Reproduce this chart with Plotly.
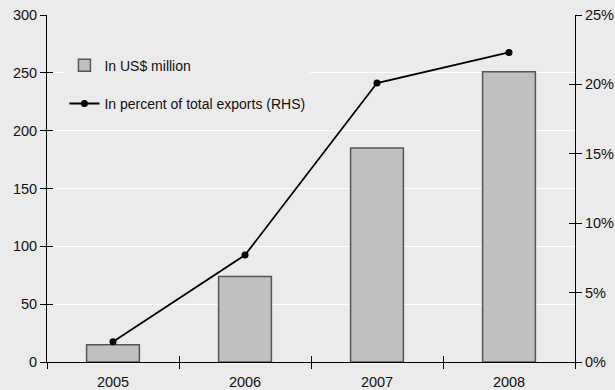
import plotly.graph_objects as go

years = ["2005", "2006", "2007", "2008"]
usd_million = [15, 74, 185, 251]
pct_exports = [1.45, 7.7, 20.1, 22.3]

y_ticks = [0, 50, 100, 150, 200, 250, 300]
y2_ticks = [0, 5, 10, 15, 20, 25]
y2_labels = ["0%", "5%", "10%", "15%", "20%", "25%"]
x_boundaries = [-0.5, 0.5, 1.5, 2.5, 3.5]

bg = "#ebebeb"
family = "Liberation Sans, Arial, sans-serif"
font = dict(family=family, size=14.5, color="#111111")

fig = go.Figure()
fig.add_trace(go.Bar(
    x=years, y=usd_million, name="In US$ million", legendgroup="a",
    marker=dict(color="#c0c0c0", line=dict(color="#555555", width=1.5)),
    width=0.4,
))
fig.add_trace(go.Scatter(
    x=years, y=pct_exports, name="In percent of total exports (RHS)",
    legendgroup="b",
    yaxis="y2", mode="lines+markers",
    line=dict(color="black", width=1.8),
    marker=dict(color="black", size=7),
))
# empty helper traces so the tick-only overlay axes are drawn
for ya in ["y3", "y4"]:
    fig.add_trace(go.Scatter(x=[None], y=[None], xaxis="x2", yaxis=ya,
                             showlegend=False, hoverinfo="skip", mode="markers"))

tick_common = dict(ticklen=6, tickcolor="black", tickwidth=1, automargin=False,
                   showgrid=False, zeroline=False)

fig.update_layout(
    width=615, height=390,
    margin=dict(l=47, r=40, t=15, b=28),
    paper_bgcolor=bg, plot_bgcolor=bg,
    font=font,
    showlegend=True,
    legend=dict(x=0.033, y=0.9, xanchor="left", yanchor="top",
                bgcolor=bg, font=dict(family=family, size=14, color="#111111"),
                tracegroupgap=17, itemwidth=30, traceorder="grouped"),
    xaxis=dict(
        type="category", showline=True, linecolor="black", linewidth=1,
        ticks="outside", tickson="boundaries", ticklabelstandoff=7,
        **tick_common,
    ),
    xaxis2=dict(
        overlaying="x", range=[-0.5, 3.5], tickvals=x_boundaries,
        ticks="inside", showticklabels=False, showline=False, side="bottom",
        anchor="y3", **tick_common,
    ),
    yaxis=dict(
        range=[0, 300], tickvals=y_ticks, showline=True, linecolor="black",
        linewidth=1, ticks="outside", ticklen=6, tickcolor="black",
        showgrid=True, gridcolor="white", gridwidth=1, zeroline=False,
        automargin=False,
    ),
    yaxis3=dict(
        overlaying="y", range=[0, 300], tickvals=y_ticks, side="left",
        ticks="inside", showticklabels=False, showline=False, anchor="x2",
        **tick_common,
    ),
    yaxis2=dict(
        range=[0, 25], tickvals=y2_ticks, ticktext=y2_labels, overlaying="y",
        side="right", showline=True, linecolor="black", linewidth=1,
        ticks="outside", **tick_common,
    ),
    yaxis4=dict(
        overlaying="y", range=[0, 25], tickvals=y2_ticks, side="right",
        ticks="inside", showticklabels=False, showline=False, anchor="x2",
        **tick_common,
    ),
)

fig.write_html("out.html")
